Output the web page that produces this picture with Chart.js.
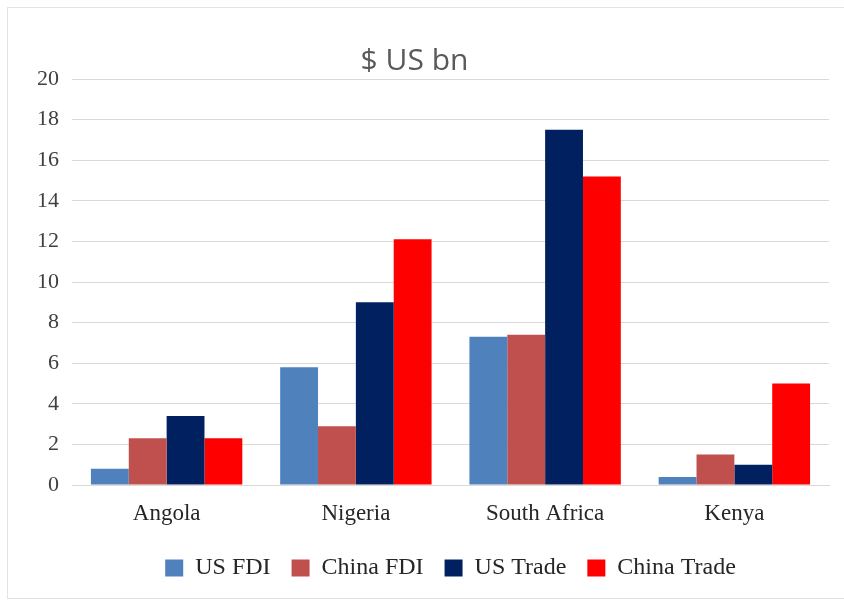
<!DOCTYPE html>
<html>
<head>
<meta charset="utf-8">
<title>$ US bn</title>
<script src="https://cdn.jsdelivr.net/npm/chart.js@4.4.1/dist/chart.umd.min.js"></script>
<style>
  html, body { margin: 0; padding: 0; background: #fff; }
  #wrap { position: relative; width: 844px; height: 600px; }
  #frame {
    position: absolute; left: 7px; top: 7px; width: 840px; height: 590px;
    border: 1px solid #e3e3e3; pointer-events: none;
  }
</style>
</head>
<body>
<div id="wrap">
  <canvas id="myChart"></canvas>
  <div id="frame"></div>
</div>
<script>
// Data
const countries = ['Angola', 'Nigeria', 'South Africa', 'Kenya'];
const usFdi      = [0.8, 5.8, 7.3, 0.4];
const chinaFdi   = [2.3, 2.9, 7.4, 1.5];
const usTrade    = [3.4, 9.0, 17.5, 1.0];
const chinaTrade = [2.3, 12.1, 15.2, 5.0];
const yTicks = [0, 2, 4, 6, 8, 10, 12, 14, 16, 18, 20];

const serif = "'Liberation Serif', 'Times New Roman', serif";

document.addEventListener('DOMContentLoaded', function() {
    const ctx = document.getElementById('myChart').getContext('2d');
    window.myChart = new Chart(ctx, {
        type: 'bar',
        data: {
            labels: countries,
            datasets: [
                { label: 'US FDI', data: usFdi, backgroundColor: '#4F81BD' },
                { label: 'China FDI', data: chinaFdi, backgroundColor: '#C0504D' },
                { label: 'US Trade', data: usTrade, backgroundColor: '#002060' },
                { label: 'China Trade', data: chinaTrade, backgroundColor: '#FF0000' }
            ]
        },
        options: {
            responsive: true,
            maintainAspectRatio: false,
            animation: false,
            datasets: {
                bar: { categoryPercentage: 0.8, barPercentage: 1.0 }
            },
            layout: { padding: { top: 0, right: 15, bottom: 10, left: 0 } },
            plugins: {
                title: {
                    display: true,
                    text: '$ US bn',
                    color: '#595959',
                    font: { family: "'Open Sans', sans-serif", size: 30, weight: 'normal', lineHeight: 1.1 },
                    padding: { top: 45, bottom: 1 }
                },
                legend: {
                    position: 'bottom',
                    fullSize: false,
                    labels: {
                        boxWidth: 18,
                        boxHeight: 17,
                        padding: 21,
                        color: '#262626',
                        font: { family: serif, size: 24 }
                    }
                },
                tooltip: { enabled: false }
            },
            scales: {
                x: {
                    grid: { display: false, drawTicks: false },
                    border: { display: true, color: '#d9d9d9' },
                    ticks: {
                        padding: 15,
                        color: '#262626',
                        font: { family: serif, size: 23 }
                    },
                    afterFit: function(scale) { scale.height = 50; }
                },
                y: {
                    min: 0,
                    max: 20,
                    grid: { color: '#d9d9d9', drawTicks: false },
                    border: { display: false },
                    ticks: {
                        padding: 13,
                        color: '#404040',
                        font: { family: serif, size: 22 }
                    },
                    afterBuildTicks: function(scale) {
                        scale.ticks = yTicks.map(v => ({ value: v }));
                    },
                    afterFit: function(scale) { scale.width = 72; }
                }
            }
        }
    });
});
</script>
</body>
</html>
